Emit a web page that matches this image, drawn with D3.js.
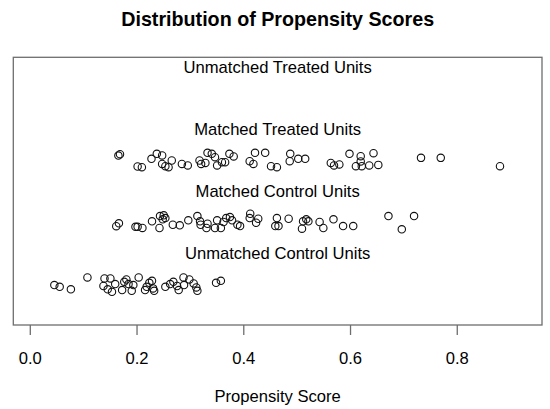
<!DOCTYPE html>
<html>
<head>
<meta charset="utf-8">
<script src="https://cdn.jsdelivr.net/npm/d3@7"></script>
<style>
  body { margin: 0; background: #fff; }
  text { font-family: "Liberation Sans", Arial, sans-serif; fill: #000; }
</style>
</head>
<body>
<div id="chart"></div>
<script>
// group labels, bottom to top (y = 1..4)
var groupLabels = ["Unmatched Control Units", "Matched Control Units",
                   "Matched Treated Units", "Unmatched Treated Units"];

var xTicks = [0, 0.2, 0.4, 0.6, 0.8];

// propensity scores and vertical jitter
var unmatchedTreatedScores = [];
var unmatchedTreatedJitter = [];

var matchedTreatedScores = [.166,.169,.202,.210,.228,.238,.248,.248,.254,.260,.266,.285,
  .296,.318,.321,.329,.333,.341,.347,.351,.360,.366,.374,.382,.412,.419,.422,.441,.452,
  .463,.488,.487,.503,.516,.564,.570,.580,.599,.611,.620,.620,.622,.636,.644,.653,.733,
  .770,.881];
var matchedTreatedJitter = [.074,.097,-.102,-.113,.021,.102,.076,-.060,-.097,-.113,-.005,
  -.060,-.085,-.005,-.060,-.044,.118,.102,.048,-.085,-.032,-.032,.102,.060,-.016,-.060,
  .118,.118,-.097,-.113,.102,-.016,.021,.021,-.044,-.085,-.069,.102,-.097,.065,-.021,
  -.097,-.085,.113,-.076,.037,.037,-.097];

var matchedControlScores = [.162,.167,.198,.202,.211,.229,.243,.244,.251,.254,.249,.268,
  .281,.297,.314,.319,.320,.333,.331,.347,.351,.358,.363,.368,.375,.379,.389,.394,.412,
  .413,.424,.428,.463,.460,.466,.485,.510,.512,.518,.522,.543,.550,.569,.587,.606,.672,
  .697,.720];
var matchedControlJitter = [-.065,-.019,-.076,-.076,-.094,.013,-.095,.098,.110,.066,.045,
  -.042,-.052,.029,.098,.013,-.042,-.026,-.095,-.095,.029,-.095,.002,.066,.082,.029,
  -.042,-.063,.066,.135,-.010,.055,.066,-.063,-.063,.055,-.106,.013,.045,.013,.002,
  -.095,.045,-.063,-.063,.098,-.116,.098];

var unmatchedControlScores = [.046,.056,.077,.108,.140,.151,.138,.146,.154,.160,.173,.177,
  .181,.185,.191,.194,.204,.216,.219,.224,.229,.231,.233,.254,.263,.269,.276,.279,.288,
  .289,.299,.307,.312,.314,.349,.358];
var unmatchedControlJitter = [-.016,-.044,-.085,.108,.092,.092,-.031,-.085,-.124,0,-.097,
  .037,.076,0,-.108,-.016,.108,-.097,-.044,.021,.053,-.069,-.108,-.044,0,.037,-.031,
  -.097,.108,-.016,.076,.011,-.053,-.108,.021,.053];

// plot box
var width = 550, height = 409;
var box = {left: 13.3, right: 542, top: 57.3, bottom: 325};

var svg = d3.select("#chart")
    .append("svg")
    .attr("width", width)
    .attr("height", height);

var x = d3.scaleLinear()
    .domain([-0.0309, 0.9597])
    .range([box.left, box.right]);

var y = d3.scaleLinear()
    .domain([0.34, 4.66])
    .range([box.bottom, box.top]);

// build point table from the arrays
var series = [
  {g: 1, s: unmatchedControlScores, j: unmatchedControlJitter},
  {g: 2, s: matchedControlScores, j: matchedControlJitter},
  {g: 3, s: matchedTreatedScores, j: matchedTreatedJitter},
  {g: 4, s: unmatchedTreatedScores, j: unmatchedTreatedJitter}
];
var points = [];
series.forEach(function(d) {
  d.s.forEach(function(v, i) { points.push({x: v, y: d.g + d.j[i]}); });
});

// title
svg.append("text")
    .attr("x", (box.left + box.right) / 2)
    .attr("y", 26)
    .attr("text-anchor", "middle")
    .style("font-size", "19.7px")
    .style("font-weight", "bold")
    .text("Distribution of Propensity Scores");

// frame
svg.append("rect")
    .attr("x", box.left)
    .attr("y", box.top)
    .attr("width", box.right - box.left)
    .attr("height", box.bottom - box.top)
    .attr("fill", "none")
    .attr("stroke", "#6e6e6e")
    .attr("stroke-width", 1.3);

// x axis (ticks below the frame)
var xAxis = d3.axisBottom(x)
    .tickValues(xTicks)
    .tickFormat(d3.format(".1f"))
    .tickSize(10)
    .tickPadding(17);
var gx = svg.append("g")
    .attr("class", "x axis")
    .attr("transform", "translate(0," + box.bottom + ")")
    .call(xAxis);
gx.select(".domain").remove();
gx.selectAll("line").attr("stroke", "#6e6e6e").attr("stroke-width", 1.3);
gx.selectAll("text")
    .style("font-size", "16.6px")
    .style("font-family", "'Liberation Sans', Arial, sans-serif")
    .attr("fill", "#000");

svg.append("text")
    .attr("x", (box.left + box.right) / 2)
    .attr("y", 402)
    .attr("text-anchor", "middle")
    .style("font-size", "16.6px")
    .text("Propensity Score");

// group labels
svg.selectAll(".glabel")
    .data(groupLabels)
    .enter().append("text")
    .attr("class", "glabel")
    .attr("x", (box.left + box.right) / 2)
    .attr("y", function(d, i) { return y(i + 1.4); })
    .attr("text-anchor", "middle")
    .style("font-size", "16.6px")
    .text(function(d) { return d; });

// points
svg.selectAll(".pt")
    .data(points)
    .enter().append("circle")
    .attr("class", "pt")
    .attr("cx", function(d) { return x(d.x); })
    .attr("cy", function(d) { return y(d.y); })
    .attr("r", 3.7)
    .attr("fill", "none")
    .attr("stroke", "#111")
    .attr("stroke-width", 1.1);
</script>
</body>
</html>
